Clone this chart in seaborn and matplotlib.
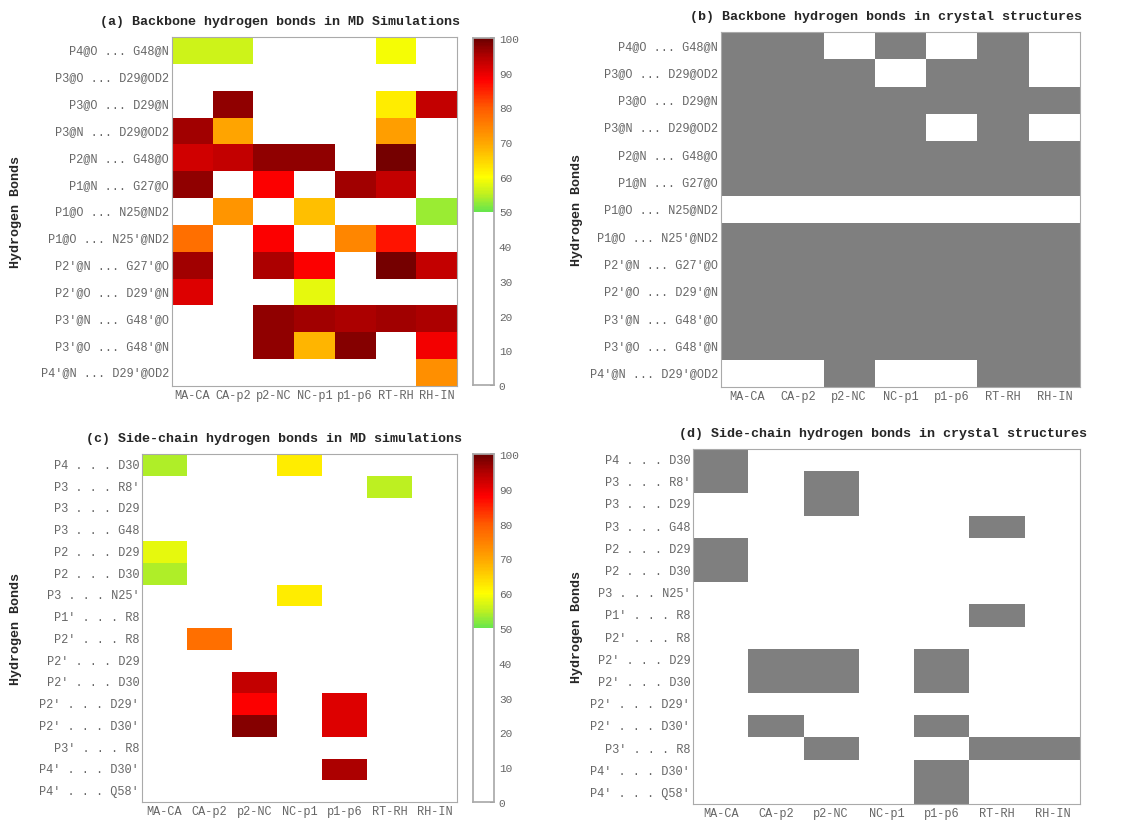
import numpy as np
import pandas as pd
import seaborn as sns
import matplotlib.pyplot as plt
from matplotlib.colors import LinearSegmentedColormap, ListedColormap

# column labels (segments) shared by all four panels
segments = ["MA-CA", "CA-p2", "p2-NC", "NC-p1", "p1-p6", "RT-RH", "RH-IN"]

# backbone hydrogen bonds
bb_bonds = ["P4@O ... G48@N", "P3@O ... D29@OD2", "P3@O ... D29@N",
            "P3@N ... D29@OD2", "P2@N ... G48@O", "P1@N ... G27@O",
            "P1@O ... N25@ND2", "P1@O ... N25'@ND2", "P2'@N ... G27'@O",
            "P2'@O ... D29'@N", "P3'@N ... G48'@O", "P3'@O ... G48'@N",
            "P4'@N ... D29'@OD2"]

# occupancy (%) in MD simulations, white below 50
md_backbone = [
    [56, 56, 0, 0, 0, 59, 0],
    [0, 0, 0, 0, 0, 0, 0],
    [0, 97, 0, 0, 0, 62, 93],
    [96, 70, 0, 0, 0, 71, 0],
    [92, 93, 97, 97, 0, 99, 0],
    [97, 0, 88, 0, 96, 93, 0],
    [0, 72, 0, 67, 0, 0, 53],
    [77, 0, 88, 0, 74, 86, 0],
    [96, 0, 95, 88, 0, 99, 93],
    [91, 0, 0, 58, 0, 0, 0],
    [0, 0, 97, 96, 95, 96, 95],
    [0, 0, 97, 68, 98, 0, 89],
    [0, 0, 0, 0, 0, 0, 73],
]

# present (1) / absent (0) in crystal structures
xtal_backbone = [
    [1, 1, 0, 1, 0, 1, 0],
    [1, 1, 1, 0, 1, 1, 0],
    [1, 1, 1, 1, 1, 1, 1],
    [1, 1, 1, 1, 0, 1, 0],
    [1, 1, 1, 1, 1, 1, 1],
    [1, 1, 1, 1, 1, 1, 1],
    [0, 0, 0, 0, 0, 0, 0],
    [1, 1, 1, 1, 1, 1, 1],
    [1, 1, 1, 1, 1, 1, 1],
    [1, 1, 1, 1, 1, 1, 1],
    [1, 1, 1, 1, 1, 1, 1],
    [1, 1, 1, 1, 1, 1, 1],
    [0, 0, 1, 0, 0, 1, 1],
]

# side-chain hydrogen bonds
sc_bonds = ["P4 . . . D30", "P3 . . . R8'", "P3 . . . D29", "P3 . . . G48",
            "P2 . . . D29", "P2 . . . D30", "P3 . . . N25'", "P1' . . . R8",
            "P2' . . . R8", "P2' . . . D29", "P2' . . . D30", "P2' . . . D29'",
            "P2' . . . D30'", "P3' . . . R8", "P4' . . . D30'", "P4' . . . Q58'"]

md_sidechain = [
    [54, 0, 0, 62, 0, 0, 0],
    [0, 0, 0, 0, 0, 55, 0],
    [0, 0, 0, 0, 0, 0, 0],
    [0, 0, 0, 0, 0, 0, 0],
    [58, 0, 0, 0, 0, 0, 0],
    [54, 0, 0, 0, 0, 0, 0],
    [0, 0, 0, 62, 0, 0, 0],
    [0, 0, 0, 0, 0, 0, 0],
    [0, 77, 0, 0, 0, 0, 0],
    [0, 0, 0, 0, 0, 0, 0],
    [0, 0, 93, 0, 0, 0, 0],
    [0, 0, 88, 0, 91, 0, 0],
    [0, 0, 98, 0, 91, 0, 0],
    [0, 0, 0, 0, 0, 0, 0],
    [0, 0, 0, 0, 95, 0, 0],
    [0, 0, 0, 0, 0, 0, 0],
]

xtal_sidechain = [
    [1, 0, 0, 0, 0, 0, 0],
    [1, 0, 1, 0, 0, 0, 0],
    [0, 0, 1, 0, 0, 0, 0],
    [0, 0, 0, 0, 0, 1, 0],
    [1, 0, 0, 0, 0, 0, 0],
    [1, 0, 0, 0, 0, 0, 0],
    [0, 0, 0, 0, 0, 0, 0],
    [0, 0, 0, 0, 0, 1, 0],
    [0, 0, 0, 0, 0, 0, 0],
    [0, 1, 1, 0, 1, 0, 0],
    [0, 1, 1, 0, 1, 0, 0],
    [0, 0, 0, 0, 0, 0, 0],
    [0, 1, 0, 0, 1, 0, 0],
    [0, 0, 1, 0, 0, 1, 1],
    [0, 0, 0, 0, 1, 0, 0],
    [0, 0, 0, 0, 1, 0, 0],
]

sns.set_theme(style="white")
plt.rcParams['font.family'] = ['Liberation Mono', 'DejaVu Sans']

# white below 50, green -> yellow -> orange -> red -> dark red above
occ_cmap = LinearSegmentedColormap.from_list("occ", [
    (0.0, "white"), (0.499, "white"), (0.5, "#66e64d"), (0.55, "#bff020"),
    (0.6, "#ffff00"), (0.7, "#ffa500"), (0.8, "#ff5a00"), (0.88, "#ff0000"),
    (0.95, "#b00000"), (1.0, "#6a0000")])
xtal_cmap = ListedColormap(["white", "#7f7f7f"])

W, H = 1126, 829
fig = plt.figure(figsize=(W / 100, H / 100), dpi=100)


def px_axes(x0, y0, x1, y1):
    return fig.add_axes([x0 / W, 1 - y1 / H, (x1 - x0) / W, (y1 - y0) / H])


tick_col = "#666666"


def draw(ax, data, rows, title, cmap, vmax, cax=None, title_x=0.5, ylab_px=23):
    df = pd.DataFrame(data, index=rows, columns=segments)
    sns.heatmap(df, ax=ax, cmap=cmap, vmin=0, vmax=vmax,
                cbar=cax is not None, cbar_ax=cax,
                xticklabels=segments, yticklabels=rows)
    ax.set_yticklabels(rows, rotation=0, fontsize=8.6, color=tick_col)
    ax.set_xticklabels(segments, rotation=0, fontsize=8.6, color=tick_col)
    ax.tick_params(direction="in", length=3, color="#aaaaaa",
                   top=True, right=True, left=True, bottom=True, pad=2)
    for sp in ax.spines.values():
        sp.set_visible(True)
        sp.set_color("#aaaaaa")
        sp.set_linewidth(0.8)
    ax.set_title(title, fontsize=9.6, fontweight="bold", x=title_x, pad=9)
    ax.set_ylabel("Hydrogen Bonds", fontsize=9.6, fontweight="bold")
    x0 = ax.get_position().x0 * W
    ax.yaxis.set_label_coords((ylab_px - x0) / (ax.get_position().width * W), 0.5)
    if cax is not None:
        cax.set_yticks(range(0, 101, 10))
        cax.tick_params(labelsize=8, colors=tick_col, length=3, direction="in")
        for sp in cax.spines.values():
            sp.set_visible(True)
            sp.set_color("#aaaaaa")


ax_a = px_axes(172, 38, 457, 387)
cax_a = px_axes(473, 39, 494, 386)
draw(ax_a, md_backbone, bb_bonds, "(a) Backbone hydrogen bonds in MD Simulations",
     occ_cmap, 100, cax=cax_a, title_x=0.38, ylab_px=22)

ax_b = px_axes(721, 33, 1080, 388)
draw(ax_b, xtal_backbone, bb_bonds, "(b) Backbone hydrogen bonds in crystal structures",
     xtal_cmap, 1, title_x=0.46, ylab_px=583)

ax_c = px_axes(142, 455, 457, 803)
cax_c = px_axes(473, 455, 494, 803)
draw(ax_c, md_sidechain, sc_bonds, "(c) Side-chain hydrogen bonds in MD simulations",
     occ_cmap, 100, cax=cax_c, title_x=0.42, ylab_px=22)

ax_d = px_axes(693, 450, 1080, 805)
draw(ax_d, xtal_sidechain, sc_bonds, "(d) Side-chain hydrogen bonds in crystal structures",
     xtal_cmap, 1, title_x=0.49, ylab_px=583)

fig.savefig("out.png", dpi=100)
